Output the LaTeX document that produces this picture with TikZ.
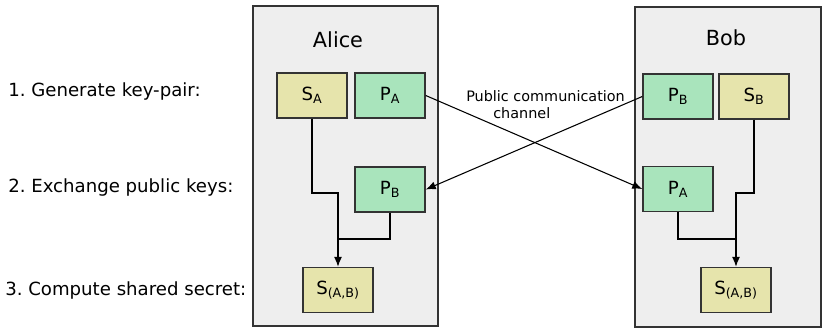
\documentclass[tikz,border=0pt]{standalone}
\usepackage{fontspec}
\setmainfont{DejaVu Sans}
\frenchspacing
\usetikzlibrary{positioning,calc,arrows.meta}

\definecolor{panelgray}{HTML}{EEEEEE}
\definecolor{secretcol}{HTML}{E6E4AC}
\definecolor{publiccol}{HTML}{A9E4BC}
\definecolor{edgecol}{HTML}{333333}

\tikzset{
  party/.style={draw=edgecol,line width=1.1pt,fill=panelgray},
  keybox/.style={draw=edgecol,line width=1.1pt,minimum width=52.5pt,minimum height=33.75pt,inner sep=0pt,font=\fontsize{13.6}{16}\selectfont},
  secret/.style={keybox,fill=secretcol},
  public/.style={keybox,fill=publiccol},
  steplabel/.style={anchor=west,inner sep=0pt,font=\fontsize{13.6}{16}\selectfont},
  wire/.style={line width=0.8pt},
  flow/.style={wire,-{Latex[length=7.5pt,width=6pt]}}
}

\begin{document}
\begin{tikzpicture}[x=0.75pt,y=-0.75pt]
\useasboundingbox (0,0) rectangle (825,331);
\fill[white] (0,0) rectangle (825,331);

% the two parties
\draw[party] (253,6) rectangle (438,326);
\draw[party] (635,7) rectangle (821,327);
\node[font=\fontsize{15.6}{18}\selectfont] (alice) at (338,40) {Alice};
\node[font=\fontsize{15.6}{18}\selectfont] (bob) at (726,38) {Bob};

% steps
\node[steplabel] (step1) at (8,92) {1. Generate key-pair:};
\node[steplabel] (step2) at (8,187) {2. Exchange public keys:};
\node[steplabel] (step3) at (5,290) {3. Compute shared secret:};

% Alice's keys
\node[secret] (sa) at (312,95.5) {S\textsubscript{A}};
\node[public] (pa) at (390,95.5) {P\textsubscript{A}};
\node[public] (pb) at (390,189.5) {P\textsubscript{B}};
\node[secret] (sab) at (338,290) {S\textsubscript{(A,B)}};

% Bob's keys
\node[public] (pbb) at (678,96.5) {P\textsubscript{B}};
\node[secret] (sbb) at (754,96.5) {S\textsubscript{B}};
\node[public] (pab) at (678,189) {P\textsubscript{A}};
\node[secret] (sabb) at (736,290) {S\textsubscript{(A,B)}};

% combining the keys
\coordinate (ja) at (338,193);
\coordinate (jb) at (338,239);
\coordinate (jc) at (736,193);
\coordinate (jd) at (736,239);
\draw[flow] (sa.south) |- (ja) -- (sab.north);
\draw[wire] (pb.south) |- (jb);
\draw[flow] (sbb.south) |- (jc) -- (sabb.north);
\draw[wire] (pab.south) |- (jd);

% exchange over the channel
\draw[flow] (pa.east) -- (pab.west);
\draw[flow] (pbb.west) -- (pb.east);
\node[anchor=base west,inner sep=0pt,font=\fontsize{10.8}{13}\selectfont] (chan1) at (466,101.5) {Public communication};
\node[anchor=base west,inner sep=0pt,font=\fontsize{10.8}{13}\selectfont] (chan2) at (493,118.5) {channel};

\end{tikzpicture}
\end{document}
